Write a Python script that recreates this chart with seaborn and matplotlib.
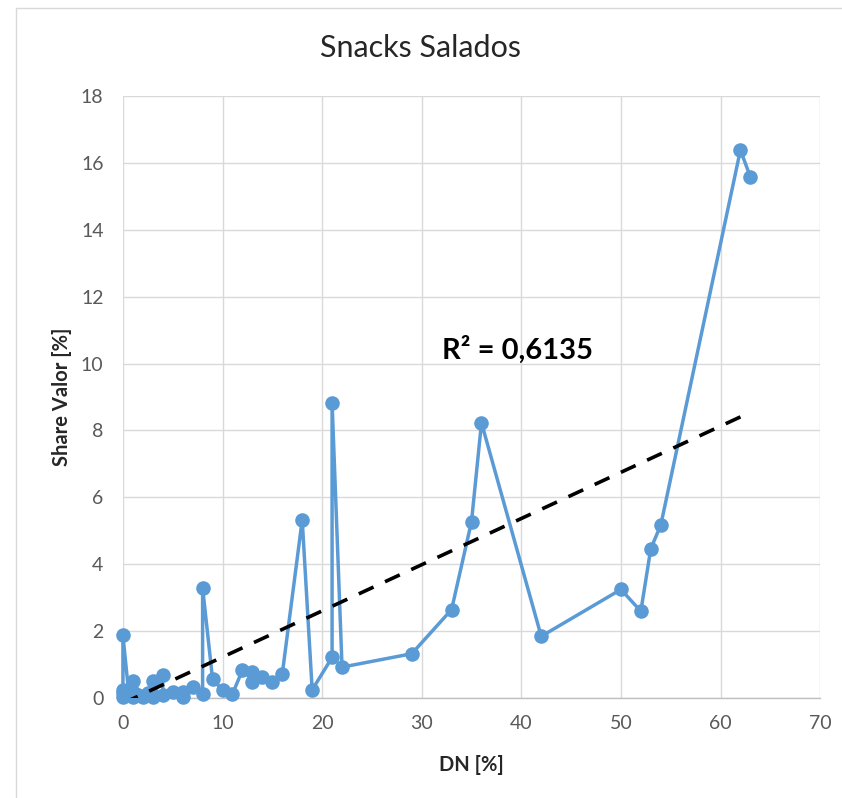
import numpy as np
import pandas as pd
import seaborn as sns
import matplotlib.pyplot as plt
from matplotlib.lines import Line2D

# Data (in plotted order)
dn = [0, 0, 0, 0, 0.6, 1, 1, 1, 1.5, 2, 2.5, 3, 3, 3, 4, 4, 5, 6, 6, 7, 8, 8,
      9, 10, 11, 12, 13, 13, 14, 15, 16, 18, 19, 21, 21, 22, 29, 33, 35, 36,
      42, 50, 52, 53, 54, 62, 63]
share = [0.05, 0.15, 0.25, 1.88, 0.1, 0.52, 0.05, 0.2, 0.1, 0.05, 0.15, 0.53,
         0.1, 0.05, 0.68, 0.1, 0.18, 0.2, 0.03, 0.35, 0.14, 3.3, 0.57, 0.24,
         0.13, 0.84, 0.78, 0.5, 0.63, 0.5, 0.73, 5.33, 0.25, 1.22, 8.83, 0.93,
         1.33, 2.65, 5.28, 8.23, 1.85, 3.25, 2.6, 4.47, 5.17, 16.38, 15.57]

# Linear trendline
trend_slope = 0.138
trend_intercept = -0.15
r2_label = "R² = 0,6135"

df = pd.DataFrame({"DN": dn, "Share": share})

sns.set_style("whitegrid")
plt.rcParams['font.family'] = ['Lato', 'DejaVu Sans']

fig = plt.figure(figsize=(8.42, 7.98), dpi=100)
ax = fig.add_axes([0.146, 0.125, 0.828, 0.755])

sns.lineplot(data=df, x="DN", y="Share", sort=False, estimator=None,
             color="#5B9BD5", linewidth=2.5, marker="o", markersize=10.5,
             markeredgewidth=0, ax=ax, zorder=3)
ax.lines[0].set_clip_on(False)

tx = np.array([0, max(dn)])
ax.plot(tx, trend_intercept + trend_slope * tx, color="black", linewidth=2.6,
        linestyle=(0, (4.5, 3.5)), zorder=4)

ax.text(39.6, 10.4, r2_label, fontsize=21, fontweight="bold", ha="center",
        va="center", color="black")

ax.set_xlim(0, 70)
ax.set_ylim(0, 18)
ax.set_xticks(range(0, 71, 10))
ax.set_yticks(range(0, 19, 2))
ax.grid(True, color="#d9d9d9", linewidth=1)
for s in ["top", "right", "left"]:
    ax.spines[s].set_visible(False)
ax.spines["bottom"].set_color("#bfbfbf")
ax.spines["bottom"].set_linewidth(1)
ax.tick_params(axis="both", length=0, labelsize=14, labelcolor="#595959")
ax.tick_params(axis="x", pad=12)
ax.tick_params(axis="y", pad=14)

ax.set_xlabel("DN [%]", fontsize=14.5, fontweight="bold")
ax.set_ylabel("Share Valor [%]", fontsize=14.5, fontweight="bold")
ax.xaxis.set_label_coords(0.5, -0.111)
ax.xaxis.label.set_va("center")
ax.yaxis.set_label_coords(-0.0875, 0.5)
ax.yaxis.label.set_va("center")
fig.suptitle("Snacks Salados", fontsize=22, y=0.94, va="center")

# chart area border
fig.add_artist(Line2D([16 / 842, 16 / 842], [0, 1 - 8 / 798], color="#d9d9d9",
                      linewidth=1, transform=fig.transFigure))
fig.add_artist(Line2D([16 / 842, 1], [1 - 8 / 798, 1 - 8 / 798], color="#d9d9d9",
                      linewidth=1, transform=fig.transFigure))

fig.savefig("out.png", dpi=100)
